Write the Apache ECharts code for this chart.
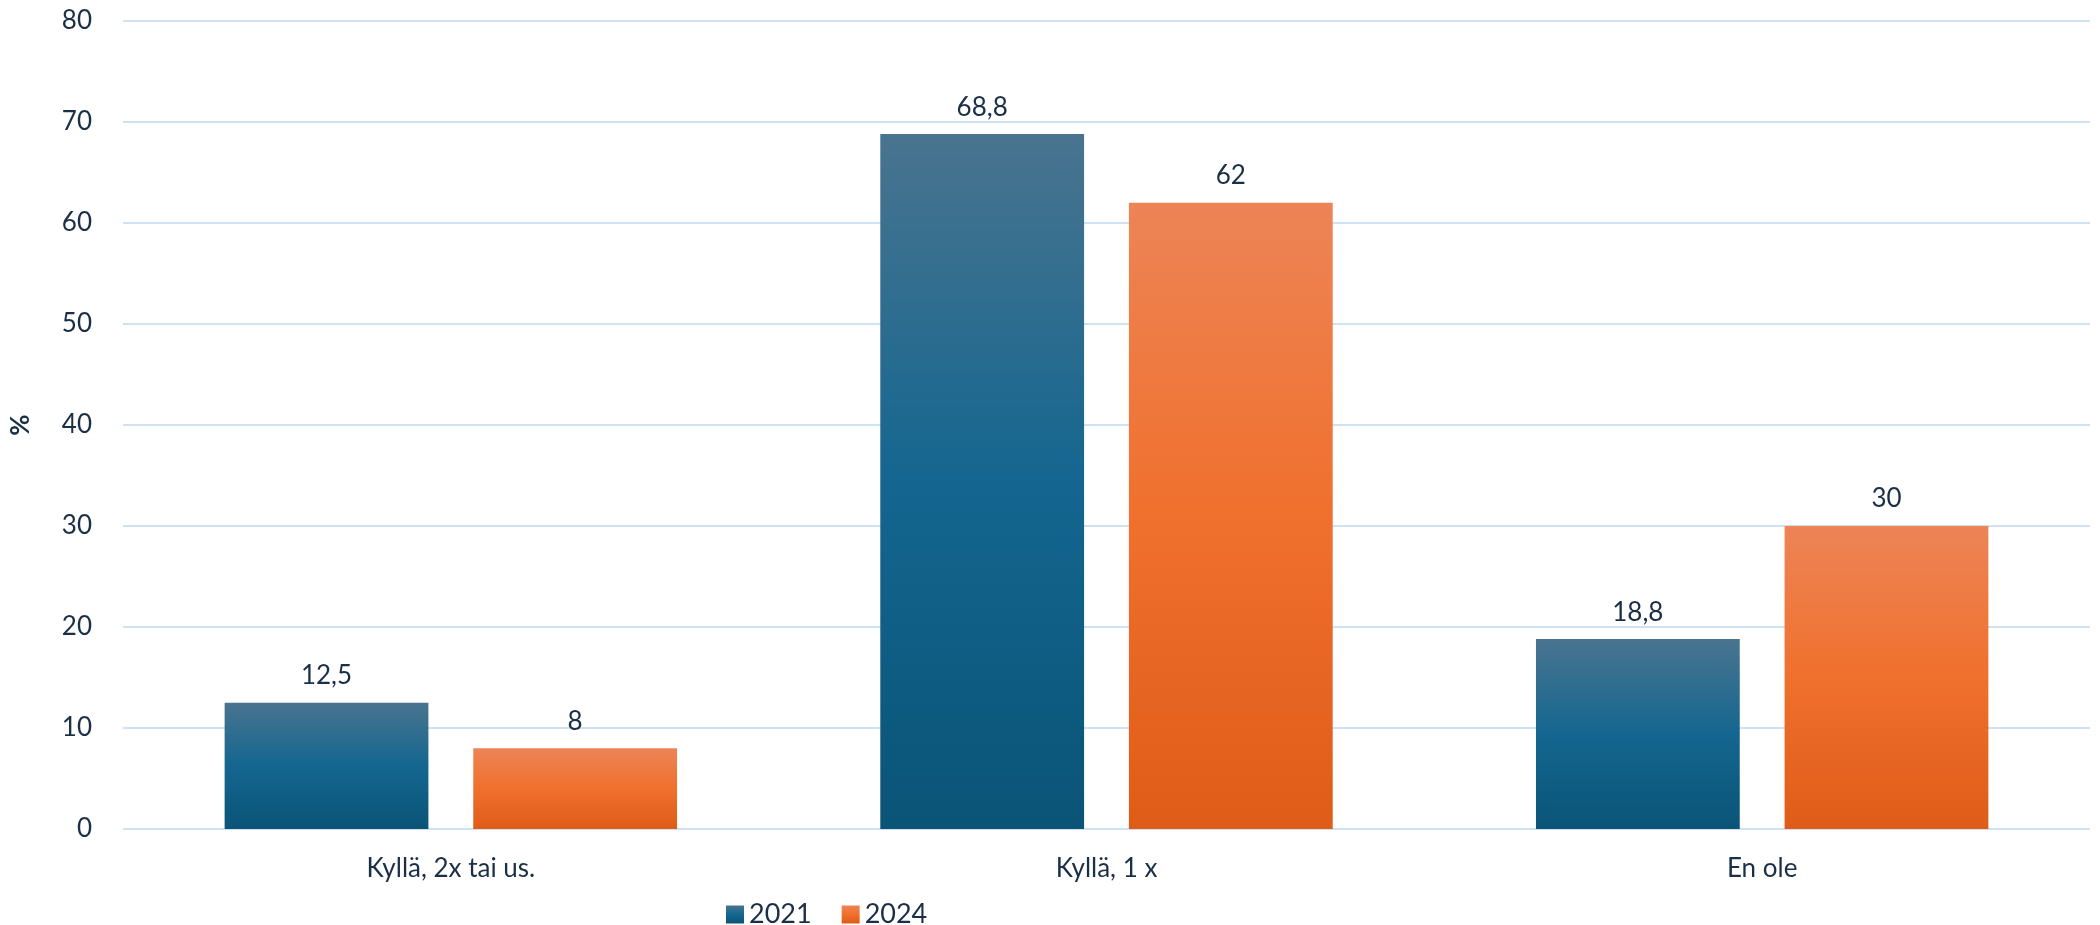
<!DOCTYPE html>
<html><head><meta charset="utf-8">
<script src="https://cdn.jsdelivr.net/npm/echarts@6/dist/echarts.min.js"></script>
<style>html,body{margin:0;padding:0;background:#fff}#c{width:2100px;height:925px}</style>
</head><body><div id="c"></div>
<script>
const categories = ["Kyllä, 2x tai us.", "Kyllä, 1 x", "En ole"];
const values2021 = [12.5, 68.8, 18.8];
const values2024 = [8, 62, 30];
const seriesNames = ["2021", "2024"];
const yTicks = {min: 0, max: 80, interval: 10};

const txt = '#1b2f47';
const font = 'Lato';
function grad(top, mid, bot) {
  return new echarts.graphic.LinearGradient(0, 0, 0, 1, [
    {offset: 0, color: top}, {offset: 0.5, color: mid}, {offset: 1, color: bot}
  ]);
}
const blue = grad('#49748f', '#146690', '#0a5477');
const orange = grad('#ed8456', '#f0702d', '#df5b18');
const lbl = {
  show: true, position: 'top', distance: 14, color: txt, fontFamily: font, fontSize: 26,
  formatter: p => String(p.value).replace('.', ',')
};
const chart = echarts.init(document.getElementById('c'), null, {renderer: 'canvas'});
chart.setOption({
  animation: false,
  textStyle: {fontFamily: font, color: txt},
  grid: {left: 118, right: 10, top: 21, bottom: 96},
  legend: {
    left: 721, top: 896, itemWidth: 18, itemHeight: 18, itemGap: 30, icon: 'rect',
    textStyle: {color: txt, fontFamily: font, fontSize: 27},
    data: seriesNames
  },
  xAxis: {
    type: 'category', data: categories,
    axisLine: {show: false}, axisTick: {show: false},
    axisLabel: {color: txt, fontFamily: font, fontSize: 26, margin: 27}
  },
  yAxis: {
    type: 'value', min: yTicks.min, max: yTicks.max, interval: yTicks.interval,
    name: '%', nameLocation: 'middle', nameRotate: 90, nameGap: 89,
    nameTextStyle: {color: txt, fontFamily: font, fontSize: 26, fontWeight: 'bold'},
    axisLabel: {color: txt, fontFamily: font, fontSize: 26, margin: 31},
    splitLine: {lineStyle: {color: '#cfe1f2', width: 2}}
  },
  series: [
    {name: seriesNames[0], type: 'bar', data: values2021, barCategoryGap: '31%', barGap: '22%',
     itemStyle: {color: blue}, label: lbl},
    {name: seriesNames[1], type: 'bar', data: values2024,
     itemStyle: {color: orange}, label: lbl}
  ]
});
</script></body></html>
